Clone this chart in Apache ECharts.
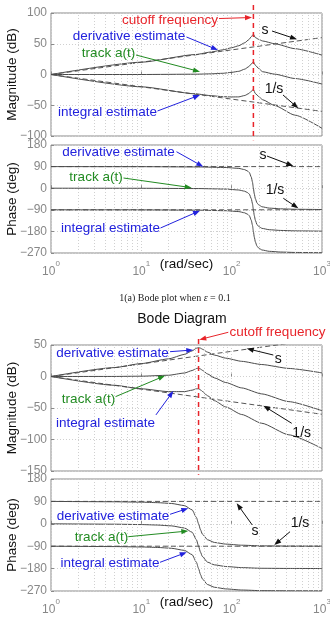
<!DOCTYPE html>
<html>
<head>
<meta charset="utf-8">
<script src="https://cdn.jsdelivr.net/npm/echarts@6/dist/echarts.min.js"></script>
<style>
html, body { margin: 0; padding: 0; background: #fff; }
#chart { width: 330px; height: 626px; }
</style>
</head>
<body>
<div id="chart"></div>
<script>
// asymptotes s and 1/s
var asymW = [1, 1000];
var sMag = [0, 60];
var invSMag = [0, -60];
var sPhase = [90, 90];
var invSPhase = [-90, -90];

// top figure (eps = 0.1), magnitude in dB
var wMagTop = [1, 10, 40, 60, 80, 100, 120, 140, 155, 165, 174, 183, 200, 220, 300, 500, 1000];
var derivMagTop = [0, 20, 32.5, 36.7, 40.1, 43.5, 46.8, 51.7, 56.7, 61.5, 65.5, 60, 57, 54.5, 50, 42, 31.5];
var trackMagTop = [0, 0, 0.5, 1.1, 2, 3.5, 5.2, 8.8, 12.9, 17.2, 20.5, 15, 9.5, 4.5, 0.5, -6.5, -15.5];
var integMagTop = [0, -20, -31.5, -34.5, -36.1, -36.5, -36.4, -34.1, -30.9, -27.2, -24.5, -31, -36, -41, -50.5, -66, -87.5];

// top figure, phase in deg
var wPhTop = [1, 10, 43, 87, 120, 139, 150, 157, 165, 170, 174, 178, 183, 191, 200, 217, 261, 348, 500, 1000];
var derivPhTop = [90, 89.7, 88.5, 86.2, 82.5, 77.5, 71.5, 65, 46, 25, 0, -24, -44, -62, -70, -77.5, -83, -86, -87.7, -89];
var trackPhTop = [0, -0.3, -1.5, -3.8, -7.5, -12.5, -18.5, -25, -44, -65, -90, -114, -134, -152, -160, -167.5, -173, -176, -177.7, -179];
var integPhTop = [-90, -90.3, -91.5, -93.8, -97.5, -102.5, -108.5, -115, -134, -155, -180, -204, -224, -242, -250, -257.5, -263, -266, -267.7, -269];

// bottom figure, magnitude in dB
var wMagBot = [1, 5, 10, 20, 30, 36.5, 40.8, 43, 45.2, 47.3, 54, 64.5, 86, 129, 215, 430, 1000];
var derivMagBot = [0, 14.1, 20.5, 28, 35, 40.7, 44.9, 45.9, 45, 43.4, 38.7, 34, 29.1, 24.1, 19, 12.8, 5.7];
var trackMagBot = [0, 0.1, 0.5, 2, 5.5, 9.5, 12.7, 13.2, 11.9, 9.9, 4.1, -2.2, -9.6, -18.1, -27.6, -39.9, -54.3];
var integMagBot = [0, -13.9, -19.5, -24, -24, -21.7, -19.5, -19.5, -21.2, -23.6, -30.5, -38.4, -48.3, -60.3, -74.2, -92.6, -114.3];

// bottom figure, phase in deg
var wPhBot = [1, 5, 10, 15, 21.5, 30, 36.5, 40.8, 43, 45.2, 47.3, 54, 64.5, 86, 129, 215, 430, 1000];
var derivPhBot = [90, 88.5, 86.9, 85, 81.7, 73.2, 56, 25, 0, -24, -41, -64, -75, -81.6, -86, -88.7, -89.4, -89.7];
var trackPhBot = [0, -1.5, -3.1, -5, -8.3, -16.8, -34, -65, -90, -114, -131, -154, -165, -171.6, -176, -178.7, -179.4, -179.7];
var integPhBot = [-90, -91.5, -93.1, -95, -98.3, -106.8, -124, -155, -180, -204, -221, -244, -255, -261.6, -266, -268.7, -269.4, -269.7];

var cutoffTop = 174;
var cutoffBot = 43;
var minorW = [2, 3, 4, 5, 6, 7, 8, 9, 20, 30, 40, 50, 60, 70, 80, 90, 200, 300, 400, 500, 600, 700, 800, 900];

var BLUE = '#2222dd', GREEN = '#228b22', RED = '#e8242a', BLACK = '#111';
var SANS = 'Liberation Sans, Arial, sans-serif';

function pairs(xs, ys) {
	return xs.map(function (x, i) { return [x, ys[i]]; });
}

function minus(v) {
	return String(v).replace('-', '\u2212');
}

var grids = [
	{ left: 51, top: 13, width: 271, height: 123 },
	{ left: 51, top: 145, width: 271, height: 108 },
	{ left: 51, top: 345, width: 271, height: 126 },
	{ left: 51, top: 479, width: 271, height: 112 }
].map(function (g) {
	g.show = true;
	g.outerBoundsMode = 'none';
	g.containLabel = false;
	g.borderColor = '#8a8a8a';
	g.borderWidth = 1;
	g.backgroundColor = '#fff';
	return g;
});

var yRanges = [[-100, 100, 50], [-270, 180, 90], [-150, 50, 50], [-270, 180, 90]];
var yNames = ['Magnitude (dB)', 'Phase (deg)', 'Magnitude (dB)', 'Phase (deg)'];

var xAxes = grids.map(function (g, i) {
	var isPhase = (i % 2 === 1);
	return {
		type: 'log', logBase: 10, gridIndex: i, min: 1, max: 1000,
		axisLine: { show: false },
		axisTick: { show: true, inside: true, length: 3, lineStyle: { color: '#8a8a8a' } },
		splitLine: { show: true, lineStyle: { color: '#d0d0d0', type: [1, 2] } },
		name: isPhase ? '(rad/sec)' : '',
		nameLocation: 'middle', nameGap: 4, nameMoveOverlap: false,
		nameTextStyle: { color: BLACK, fontSize: 13.5, fontFamily: SANS, verticalAlign: 'top' },
		axisLabel: {
			show: isPhase, margin: 7,
			formatter: function (v) {
				return '{b|10}{e|' + Math.round(Math.log10(v)) + '}';
			},
			rich: {
				b: { fontSize: 12, color: '#888', fontFamily: SANS, lineHeight: 18, verticalAlign: 'bottom' },
				e: { fontSize: 8, color: '#888', fontFamily: SANS, lineHeight: 8, verticalAlign: 'top' }
			}
		}
	};
});

var yAxes = grids.map(function (g, i) {
	return {
		type: 'value', gridIndex: i,
		min: yRanges[i][0], max: yRanges[i][1], interval: yRanges[i][2],
		axisLine: { show: false },
		axisTick: { show: true, inside: true, length: 3, lineStyle: { color: '#8a8a8a' } },
		splitLine: { show: true, lineStyle: { color: '#d0d0d0', type: [1, 2] } },
		axisLabel: { color: '#888', fontSize: 12, fontFamily: SANS, margin: 4, formatter: minus },
		name: yNames[i], nameLocation: 'middle', nameRotate: 90, nameGap: 32, nameMoveOverlap: false,
		nameTextStyle: { color: BLACK, fontSize: 13.5, fontFamily: SANS }
	};
});

function curve(i, xs, ys, dashed) {
	return {
		type: 'line', xAxisIndex: i, yAxisIndex: i, data: pairs(xs, ys),
		symbol: 'none', silent: true, z: dashed ? 3 : 4,
		smooth: 0.2, smoothMonotone: 'x',
		lineStyle: { color: dashed ? '#555' : '#4a4a4a', width: 1, type: dashed ? [5, 3] : 'solid' }
	};
}

function minorGrid(i) {
	return {
		type: 'line', xAxisIndex: i, yAxisIndex: i, data: [], silent: true, z: 1,
		markLine: {
			silent: true, symbol: ['none', 'none'], label: { show: false }, animation: false,
			lineStyle: { color: '#d0d0d0', width: 1, type: [1, 2] },
			data: minorW.map(function (w) { return { xAxis: w }; })
		}
	};
}

var series = [];
[0, 1, 2, 3].forEach(function (i) { series.push(minorGrid(i)); });

series.push(curve(0, asymW, sMag, true), curve(0, asymW, invSMag, true));
series.push(curve(0, wMagTop, derivMagTop), curve(0, wMagTop, trackMagTop), curve(0, wMagTop, integMagTop));
series.push(curve(1, asymW, sPhase, true), curve(1, asymW, invSPhase, true));
series.push(curve(1, wPhTop, derivPhTop), curve(1, wPhTop, trackPhTop), curve(1, wPhTop, integPhTop));
series.push(curve(2, asymW, sMag, true), curve(2, asymW, invSMag, true));
series.push(curve(2, wMagBot, derivMagBot), curve(2, wMagBot, trackMagBot), curve(2, wMagBot, integMagBot));
series.push(curve(3, asymW, sPhase, true), curve(3, asymW, invSPhase, true));
series.push(curve(3, wPhBot, derivPhBot), curve(3, wPhBot, trackPhBot), curve(3, wPhBot, integPhBot));

var chart = echarts.init(document.getElementById('chart'), null, { renderer: 'canvas' });
chart.setOption({
	animation: false,
	backgroundColor: '#fff',
	grid: grids,
	xAxis: xAxes,
	yAxis: yAxes,
	series: series
});

// ---- annotations (placed after the axes exist) ----
function px(i, pt) {
	return chart.convertToPixel({ gridIndex: i }, pt);
}

function label(str, x, y, color, size) {
	return {
		type: 'text', x: x, y: y, z: 100, silent: true,
		style: {
			text: str, fill: color, align: 'center', verticalAlign: 'middle',
			font: (size || 13.5) + 'px ' + SANS
		}
	};
}

// arrow between two data points of panel i
function arrow(i, from, to, color) {
	var a = px(i, from), b = px(i, to);
	var dx = b[0] - a[0], dy = b[1] - a[1];
	var len = Math.sqrt(dx * dx + dy * dy);
	var ux = dx / len, uy = dy / len;
	var hl = 7, hw = 2.6;
	var bx = b[0] - ux * hl, by = b[1] - uy * hl;
	return [
		{ type: 'line', z: 90, silent: true, shape: { x1: a[0], y1: a[1], x2: bx + ux, y2: by + uy }, style: { stroke: color, lineWidth: 1 } },
		{ type: 'polygon', z: 90, silent: true, shape: { points: [[b[0], b[1]], [bx - uy * hw, by + ux * hw], [bx + uy * hw, by - ux * hw]] }, style: { fill: color } }
	];
}

function cutoffLine(i, w, y1, y2) {
	var a = px(i, [w, y1]), b = px(i, [w, y2]);
	return { type: 'line', z: 80, silent: true, shape: { x1: a[0], y1: a[1], x2: b[0], y2: b[1] }, style: { stroke: RED, lineWidth: 1.5, lineDash: [5, 4] } };
}

var g = [];
g.push(cutoffLine(0, cutoffTop, 113, -107));
g.push(cutoffLine(2, cutoffBot, 59.5, -156));

var arrowList = [
	[0, [72.4, 91], [168, 92.7], RED],
	[0, [31.6, 61], [70.6, 39.8], BLUE],
	[0, [8.73, 31.7], [44.6, 4.6], GREEN],
	[0, [15.1, -59.3], [44.6, -33.3], BLUE],
	[0, [280, 70.7], [529, 57.2], BLACK],
	[0, [370, -33.3], [547, -55], BLACK],

	[1, [24.5, 152], [48.5, 89.6], BLUE],
	[1, [6.35, 42.5], [36.1, 2], GREEN],
	[1, [16.3, -165.8], [44.6, -93.7], BLUE],
	[1, [246, 134], [481, 92.5], BLACK],
	[1, [373, -42], [547, -84], BLACK],

	[2, [91.8, 70.2], [43.8, 58.5], RED],
	[2, [20.8, 39.4], [37.6, 42.1], BLUE],
	[2, [5.18, -32], [18.3, 1.3], GREEN],
	[2, [14.5, -61], [22.6, -23], BLUE],
	[2, [289, 34.1], [146.7, 44.4], BLACK],
	[2, [462, -74.3], [224, -46.3], BLACK],

	[3, [20.8, 38.2], [33.1, 62.3], BLUE],
	[3, [7.17, -51.8], [33.1, -28.9], GREEN],
	[3, [16.1, -154.7], [31.8, -114.5], BLUE],
	[3, [169, -4.8], [113.7, 82.4], BLACK],
	[3, [442.6, -31.7], [296.6, -85.2], BLACK]
];
arrowList.forEach(function (a) {
	g = g.concat(arrow(a[0], a[1], a[2], a[3]));
});

g.push(
	label('cutoff frequency', 170, 20, RED),
	label('derivative estimate', 129, 36.7, BLUE),
	label('track a(t)', 108.5, 53.3, GREEN),
	label('integral estimate', 107.5, 112.7, BLUE),
	label('s', 265, 30, BLACK, 14),
	label('1/s', 274, 89.5, BLACK, 14),

	label('derivative estimate', 118.5, 152.3, BLUE),
	label('track a(t)', 96, 177.3, GREEN),
	label('integral estimate', 110.5, 228.3, BLUE),
	label('s', 263, 155.5, BLACK, 14),
	label('1/s', 275, 190, BLACK, 14),

	{
		type: 'text', x: 175, y: 298, z: 100, silent: true,
		style: {
			text: '{a|1(a) Bode plot when }{i|\u03b5}{a| = 0.1}', align: 'center', verticalAlign: 'middle',
			rich: {
				a: { fontSize: 10, fontFamily: 'Liberation Serif, DejaVu Serif, serif', fill: '#222' },
				i: { fontSize: 10, fontStyle: 'italic', fontFamily: 'Liberation Serif, DejaVu Serif, serif', fill: '#222' }
			}
		}
	},

	label('Bode Diagram', 182, 319, BLACK, 14),
	label('cutoff frequency', 277.5, 332.7, RED),
	label('derivative estimate', 112.5, 353.3, BLUE),
	label('track a(t)', 88.5, 399, GREEN),
	label('integral estimate', 105.5, 423.3, BLUE),
	label('s', 278.3, 359.3, BLACK, 14),
	label('1/s', 301.7, 433.3, BLACK, 14),

	label('derivative estimate', 113, 516, BLUE),
	label('track a(t)', 101.5, 537.7, GREEN),
	label('integral estimate', 110, 563.3, BLUE),
	label('s', 255, 531, BLACK, 14),
	label('1/s', 300, 523.3, BLACK, 14)
);

chart.setOption({ graphic: g });
</script>
</body>
</html>
